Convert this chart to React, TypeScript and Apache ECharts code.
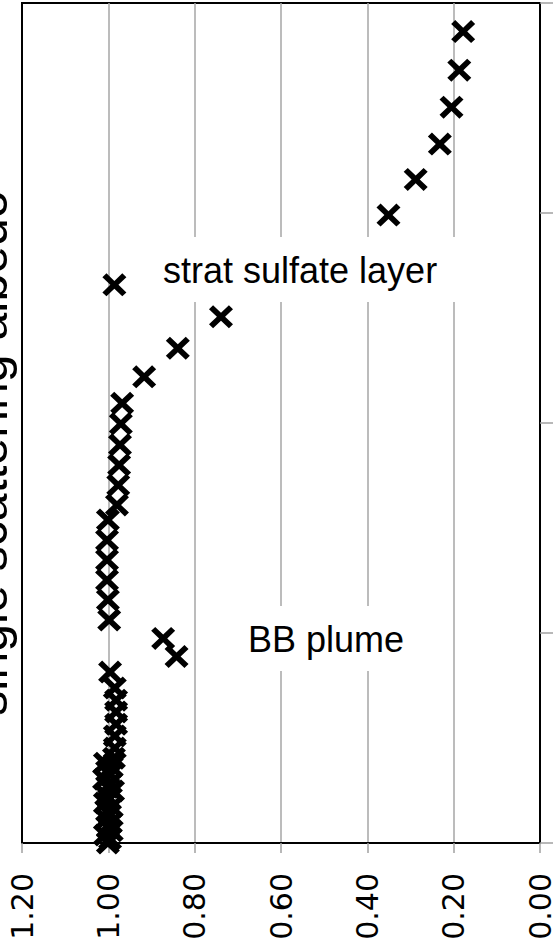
import React, { useEffect, useRef } from "react";
import * as echarts from "echarts";

// altitude (km, axis labels not visible in the picture) and single scattering albedo
const altitudeKm = [
  19.32, 18.4, 17.52, 16.64, 15.8, 14.95,
  13.29, 12.53, 11.78, 11.1, 10.47,
  9.98, 9.48, 9.0, 8.52, 8.05,
  7.69, 7.21, 6.74, 6.26, 5.79, 5.31,
  4.87, 4.44,
  4.07,
  3.69, 3.4, 3.12, 2.83, 2.55, 2.26, 2.02,
  1.9, 1.81, 1.71, 1.62, 1.52, 1.43, 1.33, 1.24, 1.14, 1.05, 0.95,
  0.86, 0.76, 0.67, 0.57, 0.48, 0.38, 0.29, 0.19, 0.1, 0.0,
];
const ssaValues = [
  0.178, 0.187, 0.205, 0.232, 0.288, 0.351,
  0.986, 0.739, 0.839, 0.917, 0.968,
  0.971, 0.973, 0.975, 0.977, 0.98,
  1.001, 1.003, 1.003, 1.003, 1.001, 0.998,
  0.873, 0.842,
  0.996,
  0.985, 0.982, 0.982, 0.982, 0.985, 0.985, 0.987,
  1.008, 0.992, 1.003, 0.996, 1.01, 0.994, 1.001, 0.989, 1.005, 0.998, 1.008,
  0.992, 1.003, 0.996, 1.005, 0.994, 1.001, 0.992, 1.008, 0.996, 1.001,
];
const ssaRange = [0, 1.2];
const ssaStep = 0.2;
const altitudeRange = [0, 20];
const altitudeStep = 5;
const axisTitle = "single scattering albedo";
const annotationTexts = ["strat sulfate layer", "BB plume"];

const X_MARK =
  "path://M0,17L17,0L50,33L83,0L100,17L67,50L100,83L83,100L50,67L17,100L0,83L33,50Z";

export default function App() {
  const ref = useRef<HTMLDivElement>(null);
  useEffect(() => {
    document.body.style.margin = "0";
    const chart = echarts.init(ref.current as HTMLDivElement, null, { renderer: "svg" });
    const data = altitudeKm.map((a, i) => [ssaValues[i], a]);
    const font = '"Liberation Sans", Arial, sans-serif';
    chart.setOption({
      animation: false,
      backgroundColor: "#fff",
      grid: {
        left: 22,
        right: 13,
        top: 3,
        bottom: 101,
        show: true,
        borderColor: "#000",
        borderWidth: 2,
        backgroundColor: "transparent",
        containLabel: false,
        outerBoundsMode: "none",
      },
      xAxis: {
        type: "value",
        inverse: true,
        min: ssaRange[0],
        max: ssaRange[1],
        interval: ssaStep,
        axisLine: { show: true, onZero: false, lineStyle: { color: "#000", width: 2 } },
        axisTick: { show: true, length: 10, lineStyle: { color: "#a0a0a0", width: 1.5 } },
        axisLabel: {
          rotate: 90,
          margin: 30,
          color: "#000",
          fontSize: 30,
          fontFamily: "DejaVu Sans",
          formatter: (v: number) => v.toFixed(2),
        },
        splitLine: {
          show: true,
          showMinLine: false,
          showMaxLine: false,
          lineStyle: { color: "#a6a6a6", width: 1.5 },
        },
      },
      yAxis: {
        type: "value",
        position: "right",
        min: altitudeRange[0],
        max: altitudeRange[1],
        interval: altitudeStep,
        axisLine: { show: true, onZero: false, lineStyle: { color: "#000", width: 2 } },
        axisTick: { show: true, length: 13, lineStyle: { color: "#a0a0a0", width: 1.5 } },
        axisLabel: { show: false },
        splitLine: { show: false },
      },
      series: [
        {
          type: "scatter",
          data,
          symbol: X_MARK,
          symbolSize: [24, 23],
          itemStyle: { color: "#000", opacity: 1 },
          clip: false,
          z: 3,
        },
      ],
      graphic: {
        elements: [
          {
            type: "rect",
            z: 1,
            shape: { x: 150, y: 237, width: 310, height: 65 },
            style: { fill: "#fff" },
          },
          {
            type: "text",
            z: 2,
            x: 163,
            y: 270.5,
            style: {
              text: annotationTexts[0],
              fontSize: 36,
              fontFamily: font,
              fill: "#000",
              textAlign: "left",
              textVerticalAlign: "middle",
            },
          },
          {
            type: "rect",
            z: 1,
            shape: { x: 235, y: 606, width: 190, height: 65 },
            style: { fill: "#fff" },
          },
          {
            type: "text",
            z: 2,
            x: 248,
            y: 639.5,
            style: {
              text: annotationTexts[1],
              fontSize: 36,
              fontFamily: font,
              fill: "#000",
              textAlign: "left",
              textVerticalAlign: "middle",
            },
          },
          {
            type: "text",
            z: 2,
            x: 15,
            y: 453,
            rotation: Math.PI / 2,
            style: {
              text: axisTitle,
              fontSize: 50,
              fontFamily: font,
              fill: "#000",
              textAlign: "center",
              textVerticalAlign: "bottom",
            },
          },
        ],
      },
    });
    return () => chart.dispose();
  }, []);
  return (
    <div
      ref={ref}
      style={{ position: "fixed", left: 0, top: 0, width: 553, height: 944, background: "#fff" }}
    />
  );
}
